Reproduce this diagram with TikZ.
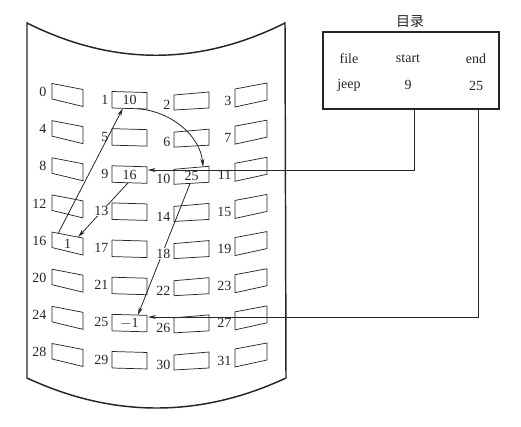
\documentclass[tikz,border=0pt]{standalone}
\usepackage{fontspec}
\setmainfont{Liberation Serif}
\newfontfamily\cjk{Noto Sans CJK SC}
\usetikzlibrary{calc,arrows.meta}
\definecolor{ink}{gray}{0.15}
\tikzset{
  sheet/.style={draw=ink,line width=1.1pt},
  blk/.style={draw=ink,line width=0.55pt},
  blktext/.style={inner sep=0pt,font=\fontsize{10.5}{12}\selectfont,text=ink},
  lbl/.style={inner sep=0.3pt,anchor=east,font=\fontsize{10.5}{12}\selectfont,text=ink},
  lblcut/.style={lbl,fill=white},
  dirtxt/.style={inner sep=0pt,anchor=base,font=\fontsize{10.5}{12}\selectfont,text=ink},
  arr/.style={draw=ink,line width=0.6pt,-{Stealth[length=6pt,width=3pt]}},
  dirbox/.style={draw=ink,line width=0.8pt}
}
\newcommand\mkblk[4]{%
  \pgfmathsetmacro\yr{92+37.14*#3}%
  \ifcase#2
    \def\xl{52}\def\xr{83}\def\ta{-8.5}\def\tb{-2.5}\def\ba{7}\def\bb{14.5}%
  \or
    \def\xl{112}\def\xr{147}\def\ta{-0.5}\def\tb{0.5}\def\ba{16}\def\bb{17}%
  \or
    \def\xl{174}\def\xr{209}\def\ta{3}\def\tb{0}\def\ba{18}\def\bb{16}%
  \or
    \def\xl{235}\def\xr{267}\def\ta{-3}\def\tb{-9}\def\ba{15}\def\bb{8}%
  \fi
  \pgfmathsetmacro\ya{\yr+\ta}\pgfmathsetmacro\yb{\yr+\tb}%
  \pgfmathsetmacro\yc{\yr+\ba}\pgfmathsetmacro\yd{\yr+\bb}%
  \coordinate (#1-tl) at (\xl,\ya);
  \coordinate (#1-tr) at (\xr,\yb);
  \coordinate (#1-bl) at (\xl,\yc);
  \coordinate (#1-br) at (\xr,\yd);
  \draw[blk] (#1-tl) -- (#1-tr) -- (#1-br) -- (#1-bl) -- cycle;
  \node[blktext] (#1) at ($(#1-tl)!0.5!(#1-br)$) {#4};
}
\newcommand\mklbl[4]{% style, col, row, text
  \pgfmathsetmacro\yr{92+37.14*#3}%
  \ifcase#2
    \def\lx{47}\def\ly{0}%
  \or
    \def\lx{109}\def\ly{7.5}%
  \or
    \def\lx{171}\def\ly{13}%
  \or
    \def\lx{232}\def\ly{8.5}%
  \fi
  \pgfmathsetmacro\yl{\yr+\ly}%
  \node[#1] (l#4) at (\lx,\yl) {#4};
}
\begin{document}
\begin{tikzpicture}[x=0.75pt,y=-0.75pt]
\useasboundingbox (0,0) rectangle (521,426);
% sheet
\draw[sheet] (27,23) .. controls (113,66) and (199,66) .. (285,23)
  -- (286,378) .. controls (200,418) and (113,418) .. (27,378) -- cycle;
% blocks
\foreach \r in {0,...,7}{
  \foreach \c in {0,...,3}{
    \pgfmathtruncatemacro\n{4*\r+\c}
    \ifnum\n=1 \mkblk{b\n}{\c}{\r}{10}%
    \else\ifnum\n=9 \mkblk{b\n}{\c}{\r}{16}%
    \else\ifnum\n=10 \mkblk{b\n}{\c}{\r}{25}%
    \else\ifnum\n=16 \mkblk{b\n}{\c}{\r}{1}%
    \else\ifnum\n=25 \mkblk{b\n}{\c}{\r}{$-$1}%
    \else \mkblk{b\n}{\c}{\r}{}%
    \fi\fi\fi\fi\fi
  }
}
% labels (not cut)
\foreach \r in {0,...,7}{
  \foreach \c in {0,...,3}{
    \pgfmathtruncatemacro\n{4*\r+\c}
    \ifnum\n=13 \else\ifnum\n=18 \else
      \mklbl{lbl}{\c}{\r}{\n}%
    \fi\fi
  }
}
% directory
\node[dirtxt,font=\cjk\fontsize{10.5}{12}\selectfont] (dirtitle) at (410,26) {目录};
\coordinate (dirNW) at (323,32);
\coordinate (dirSE) at (499,109);
\draw[dirbox] (dirNW) rectangle (dirSE);
\node[dirtxt] (hfile) at (349,63) {file};
\node[dirtxt] (hstart) at (408,62) {start};
\node[dirtxt] (hend) at (476,63) {end};
\node[dirtxt] (vjeep) at (349,88) {jeep};
\node[dirtxt] (vstart) at (408,89) {9};
\node[dirtxt] (vend) at (476,90) {25};
\coordinate (dirS1) at (414,109);
\coordinate (dirS2) at (478,109);
\coordinate (b9in) at (147.6,170);
\coordinate (b25in) at (148,317);
% chain arrows
\draw[arr] ($(b9-bl)!0.46!(b9-br)$) -- ($(b16-tl)!0.84!(b16-tr)$);
\draw[arr] ($(b16-tl)!0.2!(b16-tr)$) -- ($(b1-bl)!0.31!(b1-br)$);
\draw[arr] ($(b1-bl)!0.71!(b1-br)$) .. controls +(33,2) and +(-3,-32) .. ($(b10-tl)!0.83!(b10-tr)$);
\draw[arr] ($(b10-bl)!0.46!(b10-br)$) -- ($(b25-tl)!0.74!(b25-tr)$);
\draw[arr] (dirS1) |- (b9in);
\draw[arr] (dirS2) |- (b25in);
% labels drawn over lines
\mklbl{lblcut}{1}{3}{13}
\mklbl{lblcut}{2}{4}{18}
\end{tikzpicture}
\end{document}
